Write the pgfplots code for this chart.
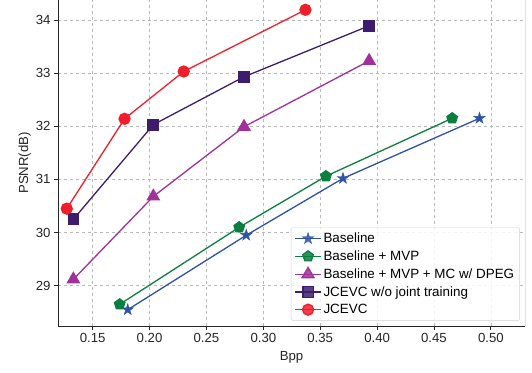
\documentclass[border=0pt]{standalone}
\usepackage{pgfplots}
\pgfplotsset{compat=1.18}
\usepackage{fontspec}
\setmainfont{Liberation Sans}
\usetikzlibrary{plotmarks}
\definecolor{cblue}{HTML}{2D52A6}
\definecolor{cgreen}{HTML}{0B7F3F}
\definecolor{cmag}{HTML}{A0309A}
\definecolor{cpurp}{HTML}{3D1C6E}
\definecolor{cred}{HTML}{EE1F2B}
\pgfdeclareplotmark{fstar}{%
  \pgfpathmoveto{\pgfpointpolar{90}{\pgfplotmarksize}}%
  \pgfpathlineto{\pgfpointpolar{126}{0.382\pgfplotmarksize}}%
  \pgfpathlineto{\pgfpointpolar{162}{\pgfplotmarksize}}%
  \pgfpathlineto{\pgfpointpolar{198}{0.382\pgfplotmarksize}}%
  \pgfpathlineto{\pgfpointpolar{234}{\pgfplotmarksize}}%
  \pgfpathlineto{\pgfpointpolar{270}{0.382\pgfplotmarksize}}%
  \pgfpathlineto{\pgfpointpolar{306}{\pgfplotmarksize}}%
  \pgfpathlineto{\pgfpointpolar{342}{0.382\pgfplotmarksize}}%
  \pgfpathlineto{\pgfpointpolar{18}{\pgfplotmarksize}}%
  \pgfpathlineto{\pgfpointpolar{54}{0.382\pgfplotmarksize}}%
  \pgfpathclose
  \pgfusepathqfillstroke
}
\begin{document}
\begin{tikzpicture}
\begin{axis}[
  scale only axis,
  width=467pt, height=326pt,
  xmin=0.1195, xmax=0.530,
  ymin=28.243, ymax=34.375,
  axis x line*=bottom, axis y line*=left,
  axis line style={line width=0.9pt, color=black!85},
  xtick={0.15,0.20,0.25,0.30,0.35,0.40,0.45,0.50},
  xticklabels={0.15,0.20,0.25,0.30,0.35,0.40,0.45,0.50},
  ytick={29,30,31,32,33,34},
  tick align=outside,
  major tick length=4pt,
  tick style={line width=0.8pt, color=black!85},
  grid=major,
  major grid style={dashed, gray!55, line width=0.6pt},
  ticklabel style={font=\fontsize{13.2}{15}\selectfont, text=black!85},
  /pgf/number format/assume math mode=true,
  xlabel={Bpp}, ylabel={PSNR(dB)},
  label style={font=\fontsize{13.2}{15}\selectfont, text=black!85},
  xlabel style={yshift=-2pt},
  ylabel style={yshift=-2pt},
  legend cell align=left,
  legend style={at={(rel axis cs:0.989,0.016)}, anchor=south east,
    rounded corners=2pt, draw=gray!35, fill=white, fill opacity=0.85, text opacity=1,
    font=\fontsize{13.4}{15}\selectfont, row sep=2.6pt, inner sep=3.5pt},
  legend image code/.code={%
    \draw[mark repeat=2,mark phase=2] plot coordinates {(0cm,0cm) (0.45cm,0cm) (0.9cm,0cm)};},
]
\addplot[cblue, line width=1.3pt, mark=fstar, mark size=6pt, mark options={solid, fill=cblue, line width=0.4pt}]
  coordinates {(0.1808,28.55) (0.285,29.95) (0.370,31.02) (0.490,32.15)};
\addlegendentry{Baseline}
\addplot[cgreen, line width=1.3pt, mark=pentagon*, mark size=5.5pt, mark options={solid, fill=cgreen}]
  coordinates {(0.1737,28.65) (0.2788,30.10) (0.355,31.06) (0.466,32.15)};
\addlegendentry{Baseline + MVP}
\addplot[cmag, line width=1.3pt, mark=triangle*, mark size=6.8pt, mark options={solid, fill=cmag}]
  coordinates {(0.133,29.12) (0.2033,30.68) (0.283,31.99) (0.393,33.23)};
\addlegendentry{Baseline + MVP + MC w/ DPEG}
\addplot[cpurp, line width=1.3pt, mark=square*, mark size=5.2pt, mark options={solid, fill=cpurp}]
  coordinates {(0.133,30.25) (0.2033,32.03) (0.283,32.93) (0.393,33.89)};
\addlegendentry{JCEVC w/o joint training}
\addplot[cred, line width=1.3pt, mark=*, mark size=5.5pt, mark options={solid, fill=cred}]
  coordinates {(0.1272,30.45) (0.178,32.14) (0.230,33.03) (0.337,34.19)};
\addlegendentry{JCEVC}
\draw[line width=0.9pt, black!85] (rel axis cs:1,0) -- (rel axis cs:1,1);
\coordinate (bl) at ([xshift=-58pt,yshift=-47pt]rel axis cs:0,0);
\coordinate (tr) at ([xshift=7pt]rel axis cs:1,1);
\end{axis}
\pgfresetboundingbox
\path[use as bounding box] (bl) rectangle (tr);
\end{tikzpicture}
\end{document}
